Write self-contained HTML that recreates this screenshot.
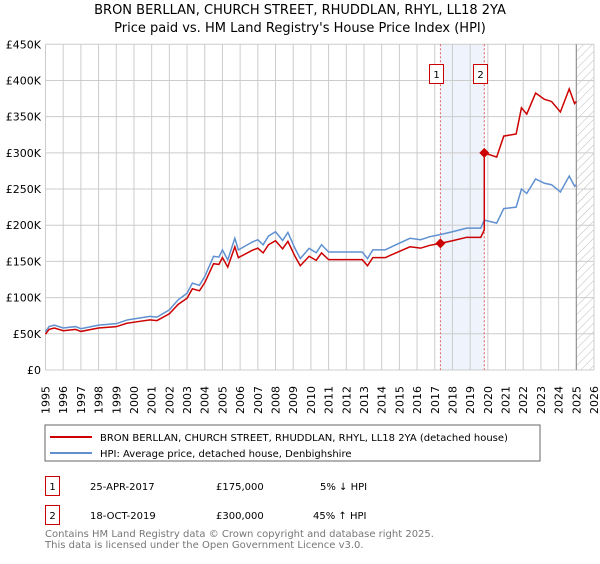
<!DOCTYPE html>
<html><head><meta charset="utf-8"><style>
body{margin:0;background:#fff;width:600px;height:560px;overflow:hidden;font-family:"DejaVu Sans","Liberation Sans",sans-serif;}
svg text{font-family:"DejaVu Sans","Liberation Sans",sans-serif;}
</style></head><body>
<svg id="chart" width="600" height="560" xmlns="http://www.w3.org/2000/svg">
<defs>
<pattern id="hatch" patternUnits="userSpaceOnUse" width="6" height="6" patternTransform="rotate(45)">
<line x1="0" y1="0" x2="0" y2="6" stroke="#bbb" stroke-width="1"/></pattern>
</defs>
<text x="300" y="14" text-anchor="middle" font-size="13">BRON BERLLAN, CHURCH STREET, RHUDDLAN, RHYL, LL18 2YA</text>
<text x="300" y="32" text-anchor="middle" font-size="13">Price paid vs. HM Land Registry's House Price Index (HPI)</text>
<g id="grid"></g>
<g id="marks"></g>
<g id="axes"></g>
<rect x="45" y="425" width="495" height="36" fill="#fff" stroke="#666"/>
<line x1="50" y1="437" x2="92" y2="437" stroke="#cc0000" stroke-width="2"/>
<text x="100" y="441" font-size="10">BRON BERLLAN, CHURCH STREET, RHUDDLAN, RHYL, LL18 2YA (detached house)</text>
<line x1="50" y1="453" x2="92" y2="453" stroke="#6090d0" stroke-width="2"/>
<text x="100" y="457" font-size="10">HPI: Average price, detached house, Denbighshire</text>
<rect x="45.5" y="476.5" width="14" height="19" fill="#fff" stroke="#cc0000"/>
<text x="52.5" y="490" font-size="10" text-anchor="middle">1</text>
<text x="90" y="490" font-size="10">25-APR-2017</text>
<text x="216" y="490" font-size="10">£175,000</text>
<text x="320" y="490" font-size="10">5% ↓ HPI</text>
<rect x="45.5" y="505.5" width="14" height="19" fill="#fff" stroke="#cc0000"/>
<text x="52.5" y="519" font-size="10" text-anchor="middle">2</text>
<text x="90" y="519" font-size="10">18-OCT-2019</text>
<text x="216" y="519" font-size="10">£300,000</text>
<text x="313" y="519" font-size="10">45% ↑ HPI</text>
<text x="45" y="537" font-size="10" fill="#777">Contains HM Land Registry data © Crown copyright and database right 2025.</text>
<text x="45" y="548" font-size="10" fill="#777">This data is licensed under the Open Government Licence v3.0.</text>
</svg>
<script>
const hpiYears=[1995.0,1995.2,1995.5,1996.0,1996.7,1997.0,1998.0,1999.0,1999.6,2000.1,2000.9,2001.3,2002.0,2002.5,2003.0,2003.3,2003.7,2004.0,2004.5,2004.8,2005.0,2005.3,2005.7,2005.9,2006.7,2007.0,2007.3,2007.6,2008.0,2008.4,2008.7,2009.1,2009.4,2009.9,2010.3,2010.6,2011.0,2011.8,2012.3,2012.9,2013.2,2013.5,2014.2,2014.8,2015.6,2016.2,2016.7,2017.3,2018.0,2018.8,2019.6,2019.8,2020.5,2020.9,2021.6,2021.9,2022.2,2022.7,2023.2,2023.6,2024.1,2024.6,2024.9,2025.0];
const hpiValues=[53,60,62,58,60,57,62,64,69,71,74,73,83,97,106,120,117,129,157,156,166,152,182,166,177,180,173,185,191,179,190,168,154,168,162,173,163,163,163,163,154,166,166,173,182,180,184,187,191,196,196,207,203,223,225,250,244,264,258,256,246,268,254,256];
const saleYears=[2017.32,2019.8];
const salePrices=[175,300];
const saleLabels=["1","2"];
const yTicks=[0,50,100,150,200,250,300,350,400,450];
const yTickLabels=["£0","£50K","£100K","£150K","£200K","£250K","£300K","£350K","£400K","£450K"];
const xTicks=[1995,1996,1997,1998,1999,2000,2001,2002,2003,2004,2005,2006,2007,2008,2009,2010,2011,2012,2013,2014,2015,2016,2017,2018,2019,2020,2021,2022,2023,2024,2025,2026];
const NS="http://www.w3.org/2000/svg";
const X0=45.5,X1=594,Y0=370,Y1=44.3,YMIN=1995,YMAX=2026,VMAX=450;
const xs=y=>X0+(y-YMIN)/(YMAX-YMIN)*(X1-X0);
const ys=v=>Y0-v/VMAX*(Y0-Y1);
function mk(tag,attrs,parent){const e=document.createElementNS(NS,tag);for(const k in attrs)e.setAttribute(k,attrs[k]);parent.appendChild(e);return e;}
const grid=document.getElementById('grid'),marks=document.getElementById('marks'),axes=document.getElementById('axes');
const sh=mk('rect',{x:xs(saleYears[0]),y:Y1,width:xs(saleYears[1])-xs(saleYears[0]),height:Y0-Y1,fill:'#eef3fc'},grid);


const lastYear=hpiYears[hpiYears.length-1];
const ht=mk('rect',{x:xs(lastYear),y:Y1,width:X1-xs(lastYear),height:Y0-Y1,fill:'url(#hatch)'},grid);


yTicks.forEach((t,i)=>{
 const l=mk('line',{x1:X0,x2:X1,y1:ys(t),y2:ys(t),stroke:'#ccc'},grid);
 
 
 const tx=mk('text',{x:41,y:ys(t)+4,'text-anchor':'end','font-size':11},axes);tx.textContent=yTickLabels[i];
 
 
});
xTicks.forEach(t=>{
 const l=mk('line',{x1:xs(t),x2:xs(t),y1:Y1,y2:Y0,stroke:'#ccc'},grid);
 
 
 const tx=mk('text',{x:0,y:0,'font-size':11,transform:`translate(${xs(t)+4},414) rotate(-90)`},axes);tx.textContent=t;
 
 
});
const vl=mk('line',{x1:xs(lastYear),x2:xs(lastYear),y1:Y1,y2:Y0,stroke:'#888'},grid);


function hpiAt(y){for(let i=1;i<hpiYears.length;i++){if(y<=hpiYears[i]){const a=hpiYears[i-1],b=hpiYears[i];return hpiValues[i-1]+(hpiValues[i]-hpiValues[i-1])*(y-a)/(b-a);}}return hpiValues[hpiValues.length-1];}
saleYears.forEach((s,i)=>{
 const l=mk('line',{x1:xs(s),x2:xs(s),y1:Y1,y2:Y0,stroke:'#e06060','stroke-dasharray':'2,2'},marks);
 
 
 const bx=Math.round(xs(s))-10.5;
 const r=mk('rect',{x:bx,y:64.5,width:14,height:19,fill:'#fff',stroke:'#cc0000'},marks);
 
 
 const t=mk('text',{x:bx+7,y:78,'text-anchor':'middle','font-size':10},marks);t.textContent=saleLabels[i];
});
const hp=mk('polyline',{points:hpiYears.map((y,i)=>xs(y)+','+ys(hpiValues[i])).join(' '),fill:'none',stroke:'#6090d0','stroke-width':1.5},marks);


let pts=[];
hpiYears.forEach((y,i)=>{
 let f;
 if(y<saleYears[1]){f=salePrices[0]/hpiAt(saleYears[0]);}else{f=salePrices[1]/hpiAt(saleYears[1]);}
 if(i>0&&hpiYears[i-1]<saleYears[1]&&y>=saleYears[1]){
  const f0=salePrices[0]/hpiAt(saleYears[0]);
  pts.push(xs(saleYears[1])+','+ys(hpiAt(saleYears[1])*f0));
  pts.push(xs(saleYears[1])+','+ys(salePrices[1]));
 }
 pts.push(xs(y)+','+ys(hpiValues[i]*f));
});
const pp=mk('polyline',{points:pts.join(' '),fill:'none',stroke:'#cc0000','stroke-width':1.5},marks);


saleYears.forEach((s,i)=>{
 const cx=xs(s),cy=ys(salePrices[i]);
 const d=mk('polygon',{points:`${cx},${cy-5} ${cx+5},${cy} ${cx},${cy+5} ${cx-5},${cy}`,fill:'#cc0000'},marks);
 
 
});
</script>
</body></html>
